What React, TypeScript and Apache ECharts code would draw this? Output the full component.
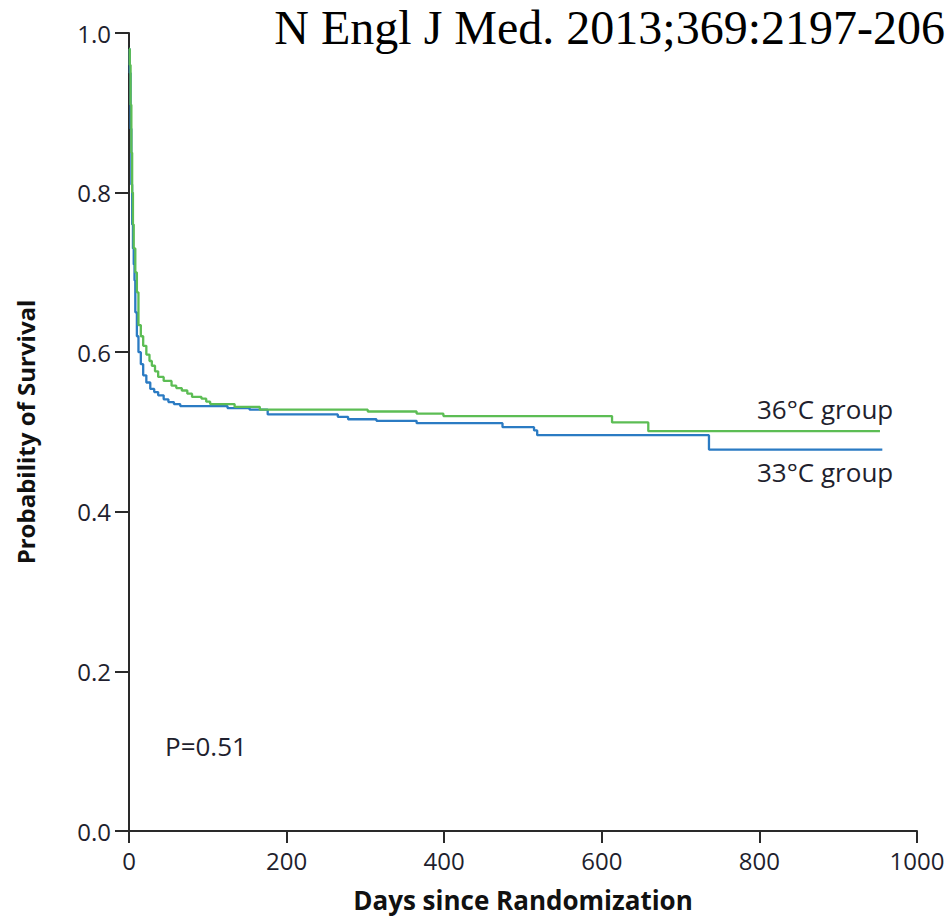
import React, { useEffect, useRef } from "react";
import * as echarts from "echarts";

const xTicks = { min: 0, max: 1000, interval: 200 };
const yTicks = { min: 0, max: 1, interval: 0.2 };

const blueName = "33°C group";
const greenName = "36°C group";

// Kaplan-Meier steps: [day, survival probability after the step]
const blueDays = [0, 1, 2, 3, 4, 5, 6, 7, 8, 10, 12, 15, 18, 22, 27, 32, 37, 44, 50, 57, 65, 125, 153, 176, 265, 278, 314, 365, 474, 514, 518, 736, 956];
const blueSurv = [0.98, 0.95, 0.88, 0.81, 0.76, 0.73, 0.71, 0.69, 0.65, 0.62, 0.60, 0.585, 0.571, 0.562, 0.554, 0.55, 0.546, 0.541, 0.5375, 0.535, 0.5325, 0.530, 0.528, 0.522, 0.519, 0.516, 0.514, 0.511, 0.506, 0.502, 0.496, 0.478, 0.478];

const greenDays = [0, 1, 2, 3, 4, 5, 6, 8, 10, 12, 15, 18, 22, 26, 29, 33, 37, 44, 54, 60, 67, 74, 80, 92, 98, 103, 134, 166, 303, 365, 399, 613, 659, 953];
const greenSurv = [0.98, 0.96, 0.91, 0.85, 0.80, 0.76, 0.73, 0.70, 0.675, 0.634, 0.62, 0.608, 0.597, 0.589, 0.583, 0.576, 0.569, 0.564, 0.558, 0.555, 0.552, 0.548, 0.544, 0.5417, 0.538, 0.535, 0.5316, 0.528, 0.5257, 0.523, 0.520, 0.512, 0.501, 0.501];

const titleText = "N Engl J Med. 2013;369:2197-206";
const pValueText = "P=0.51";
const xAxisName = "Days since Randomization";
const yAxisName = "Probability of Survival";

const textColor = "#1f1f2e";
const axisColor = "#2a2a2a";
const sans = "'Open Sans', 'DejaVu Sans', sans-serif";

export default function App() {
  const ref = useRef<HTMLDivElement>(null);

  useEffect(() => {
    if (!ref.current) return;
    const chart = echarts.init(ref.current, null, { renderer: "svg" });
    const blueData = blueDays.map((d, i) => [d, blueSurv[i]]);
    const greenData = greenDays.map((d, i) => [d, greenSurv[i]]);

    chart.setOption({
      animation: false,
      backgroundColor: "#ffffff",
      grid: { left: 129, right: 34, top: 33, bottom: 86, containLabel: false },
      xAxis: {
        type: "value",
        min: xTicks.min,
        max: xTicks.max,
        interval: xTicks.interval,
        name: xAxisName,
        nameLocation: "middle",
        nameGap: 56,
        nameTextStyle: { fontFamily: sans, fontWeight: "bold", fontSize: 26, color: "#111" },
        axisLine: { show: true, lineStyle: { color: axisColor, width: 2 } },
        axisTick: { show: true, length: 12, lineStyle: { color: axisColor, width: 2 } },
        axisLabel: {
          margin: 17,
          fontFamily: sans,
          fontSize: 24,
          color: textColor,
          formatter: (v: number) => String(v),
        },
        splitLine: { show: false },
      },
      yAxis: {
        type: "value",
        min: yTicks.min,
        max: yTicks.max,
        interval: yTicks.interval,
        name: yAxisName,
        nameLocation: "middle",
        nameGap: 92,
        nameTextStyle: { fontFamily: sans, fontWeight: "bold", fontSize: 24, color: "#111" },
        axisLine: { show: true, lineStyle: { color: axisColor, width: 2 } },
        axisTick: { show: true, length: 14, lineStyle: { color: axisColor, width: 2 } },
        axisLabel: {
          margin: 18,
          fontFamily: sans,
          fontSize: 24,
          color: textColor,
          formatter: (v: number) => v.toFixed(1),
        },
        splitLine: { show: false },
      },
      series: [
        {
          name: blueName,
          type: "line",
          step: "end",
          data: blueData,
          showSymbol: false,
          symbol: "none",
          lineStyle: { color: "#2b7bc3", width: 2.3 },
          z: 2,
        },
        {
          name: greenName,
          type: "line",
          step: "end",
          data: greenData,
          showSymbol: false,
          symbol: "none",
          lineStyle: { color: "#5cbd54", width: 2.3 },
          z: 3,
        },
      ],
      graphic: [
        {
          type: "text",
          right: 6,
          top: 3,
          style: {
            text: titleText,
            font: "48px 'Liberation Serif', 'Times New Roman', serif",
            fill: "#000",
          },
        },
        {
          type: "text",
          left: 757,
          top: 396,
          style: { text: greenName, font: `26px ${sans}`, fill: textColor },
        },
        {
          type: "text",
          left: 757,
          top: 459,
          style: { text: blueName, font: `26px ${sans}`, fill: textColor },
        },
        {
          type: "text",
          left: 165,
          top: 733,
          style: { text: pValueText, font: `26px ${sans}`, fill: textColor },
        },
      ],
    });

    return () => chart.dispose();
  }, []);

  return (
    <div
      ref={ref}
      style={{ position: "fixed", left: 0, top: 0, width: 951, height: 918, background: "#fff" }}
    />
  );
}
